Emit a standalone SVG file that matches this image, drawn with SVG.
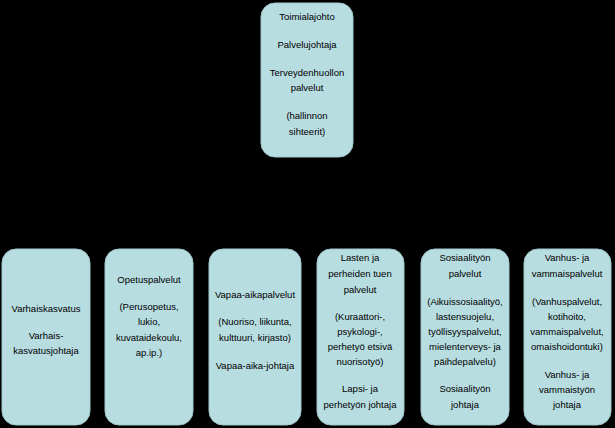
<svg xmlns="http://www.w3.org/2000/svg" width="615" height="428" viewBox="0 0 615 428">
<style>
.n{fill:#b7dde0;stroke:#a0c8cb;stroke-width:1}
text{font-family:"Liberation Sans",Arial,sans-serif;font-size:9.5px;fill:#000;text-anchor:middle;dominant-baseline:central}
</style>
<rect width="615" height="428" fill="#000"/>
<g id="connectors"></g>
<g id="top"><rect class="n" x="261" y="3" width="92" height="154" rx="14"/>
<text x="307" y="16">Toimialajohto</text><text x="307" y="44">Palvelujohtaja</text><text x="307" y="72">Terveydenhuollon</text><text x="307" y="87">palvelut</text><text x="307" y="115">(hallinnon</text><text x="307" y="131">sihteerit)</text></g>
<g id="n1"><rect class="n" x="2" y="249" width="88" height="176" rx="14"/>
<text x="46" y="308">Varhaiskasvatus</text><text x="46" y="335">Varhais-</text><text x="46" y="350">kasvatusjohtaja</text></g>
<g id="n2"><rect class="n" x="105" y="249" width="88" height="176" rx="14"/>
<text x="149" y="279">Opetuspalvelut</text><text x="149" y="306">(Perusopetus,</text><text x="149" y="321">lukio,</text><text x="149" y="337">kuvataidekoulu,</text><text x="149" y="352">ap.ip.)</text></g>
<g id="n3"><rect class="n" x="209" y="249" width="92" height="176" rx="14"/>
<text x="255" y="294">Vapaa-aikapalvelut</text><text x="255" y="321">(Nuoriso, liikunta,</text><text x="255" y="337">kulttuuri, kirjasto)</text><text x="255" y="365">Vapaa-aika-johtaja</text></g>
<g id="n4"><rect class="n" x="317" y="249" width="87" height="176" rx="14"/>
<text x="360" y="257">Lasten ja</text><text x="360" y="273">perheiden tuen</text><text x="360" y="289">palvelut</text><text x="360" y="316">(Kuraattori-,</text><text x="360" y="331">psykologi-,</text><text x="360" y="346">perhetyö etsivä</text><text x="360" y="361">nuorisotyö)</text><text x="360" y="388">Lapsi- ja</text><text x="360" y="404">perhetyön johtaja</text></g>
<g id="n5"><rect class="n" x="421" y="249" width="88" height="176" rx="14"/>
<text x="465" y="257">Sosiaalityön</text><text x="465" y="273">palvelut</text><text x="465" y="301">(Aikuissosiaalityö,</text><text x="465" y="316">lastensuojelu,</text><text x="465" y="331">työllisyyspalvelut,</text><text x="465" y="346">mielenterveys- ja</text><text x="465" y="361">päihdepalvelu)</text><text x="465" y="388">Sosiaalityön</text><text x="465" y="404">johtaja</text></g>
<g id="n6"><rect class="n" x="524" y="249" width="87" height="176" rx="14"/>
<text x="567" y="257">Vanhus- ja</text><text x="567" y="273">vammaispalvelut</text><text x="567" y="301">(Vanhuspalvelut,</text><text x="567" y="316">kotihoito,</text><text x="567" y="331">vammaispalvelut,</text><text x="567" y="346">omaishoidontuki)</text><text x="567" y="374">Vanhus- ja</text><text x="567" y="389">vammaistyön</text><text x="567" y="404">johtaja</text></g>
</svg>
